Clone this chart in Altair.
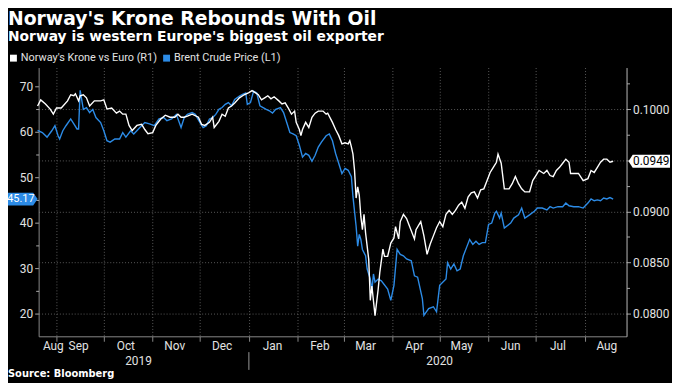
import altair as alt
import pandas as pd

KRONE = "Norway's Krone vs Euro (R1)"
BRENT = "Brent Crude Price (L1)"

krone_dates = [
    "2019-08-20", "2019-08-22", "2019-08-25", "2019-08-28", "2019-08-30", "2019-09-01", "2019-09-04",
    "2019-09-08", "2019-09-10", "2019-09-12", "2019-09-13", "2019-09-15", "2019-09-16", "2019-09-18",
    "2019-09-20", "2019-09-22", "2019-09-25", "2019-09-29", "2019-10-01", "2019-10-03", "2019-10-06",
    "2019-10-09", "2019-10-11", "2019-10-13", "2019-10-15", "2019-10-17", "2019-10-19", "2019-10-22",
    "2019-10-25", "2019-10-27", "2019-10-29", "2019-11-01", "2019-11-03", "2019-11-06", "2019-11-09",
    "2019-11-12", "2019-11-15", "2019-11-17", "2019-11-19", "2019-11-21", "2019-11-23", "2019-11-26",
    "2019-11-30", "2019-12-02", "2019-12-04", "2019-12-07", "2019-12-09", "2019-12-10", "2019-12-13",
    "2019-12-15", "2019-12-17", "2019-12-19", "2019-12-21", "2019-12-23", "2019-12-26", "2019-12-29",
    "2020-01-01", "2020-01-03", "2020-01-05", "2020-01-07", "2020-01-09", "2020-01-11", "2020-01-13",
    "2020-01-15", "2020-01-17", "2020-01-20", "2020-01-22", "2020-01-24", "2020-01-26", "2020-01-28",
    "2020-01-30", "2020-01-31", "2020-02-02", "2020-02-03", "2020-02-04", "2020-02-06", "2020-02-08",
    "2020-02-10", "2020-02-12", "2020-02-14", "2020-02-17", "2020-02-19", "2020-02-20", "2020-02-23",
    "2020-02-25", "2020-02-27", "2020-02-29", "2020-03-02", "2020-03-04", "2020-03-05", "2020-03-06",
    "2020-03-07", "2020-03-08", "2020-03-09", "2020-03-10", "2020-03-11", "2020-03-12", "2020-03-13",
    "2020-03-14", "2020-03-15", "2020-03-16", "2020-03-17", "2020-03-18", "2020-03-19", "2020-03-21",
    "2020-03-23", "2020-03-24", "2020-03-26", "2020-03-27", "2020-03-29", "2020-03-31", "2020-04-02",
    "2020-04-03", "2020-04-05", "2020-04-06", "2020-04-08", "2020-04-10", "2020-04-12", "2020-04-15",
    "2020-04-16", "2020-04-19", "2020-04-21", "2020-04-23", "2020-04-25", "2020-04-27", "2020-04-29",
    "2020-05-01", "2020-05-03", "2020-05-05", "2020-05-07", "2020-05-09", "2020-05-11", "2020-05-13",
    "2020-05-15", "2020-05-17", "2020-05-19", "2020-05-21", "2020-05-23", "2020-05-25", "2020-05-27",
    "2020-05-29", "2020-05-31", "2020-06-02", "2020-06-04", "2020-06-06", "2020-06-07", "2020-06-09",
    "2020-06-11", "2020-06-14", "2020-06-16", "2020-06-18", "2020-06-20", "2020-06-22", "2020-06-24",
    "2020-06-27", "2020-06-29", "2020-07-01", "2020-07-03", "2020-07-06", "2020-07-08", "2020-07-10",
    "2020-07-12", "2020-07-14", "2020-07-16", "2020-07-18", "2020-07-20", "2020-07-22", "2020-07-23",
    "2020-07-26", "2020-07-28", "2020-07-31", "2020-08-03", "2020-08-05", "2020-08-07", "2020-08-09",
    "2020-08-11", "2020-08-13", "2020-08-15", "2020-08-17", "2020-08-19",
]
krone_values = [
    0.1003, 0.1009, 0.1005, 0.1000, 0.0995, 0.1001, 0.1001,
    0.1008, 0.1014, 0.1013, 0.1015, 0.1008, 0.1013, 0.1014,
    0.1011, 0.1003, 0.1008, 0.1008, 0.1009, 0.1000, 0.1001,
    0.0996, 0.0998, 0.0995, 0.0995, 0.0984, 0.0979, 0.0984,
    0.0985, 0.0980, 0.0976, 0.0977, 0.0984, 0.0990, 0.0994,
    0.0992, 0.0992, 0.0995, 0.0992, 0.0992, 0.0993, 0.0995,
    0.0992, 0.0985, 0.0984, 0.0987, 0.0992, 0.0982, 0.0988,
    0.0995, 0.0993, 0.1001, 0.1003, 0.1006, 0.1011, 0.1014,
    0.1016, 0.1018, 0.1016, 0.1014, 0.1009, 0.1011, 0.1013,
    0.1010, 0.1012, 0.1008, 0.1005, 0.1006, 0.1001, 0.0995,
    0.0998, 0.0987, 0.0980, 0.0974, 0.0980, 0.0987, 0.0982,
    0.0992, 0.0996, 0.0998, 0.0998, 0.0995, 0.0996, 0.0987,
    0.0980, 0.0974, 0.0966, 0.0967, 0.0966, 0.0969, 0.0963,
    0.0956, 0.0940, 0.0913, 0.0924, 0.0916, 0.0895, 0.0882,
    0.0897, 0.0879, 0.0866, 0.0853, 0.0813, 0.0827, 0.0798,
    0.0824, 0.0840, 0.0863, 0.0856, 0.0856, 0.0869, 0.0874,
    0.0885, 0.0873, 0.0890, 0.0897, 0.0893, 0.0885, 0.0873,
    0.0882, 0.0890, 0.0876, 0.0858, 0.0868, 0.0876, 0.0884,
    0.0890, 0.0885, 0.0897, 0.0901, 0.0897, 0.0901, 0.0906,
    0.0909, 0.0903, 0.0914, 0.0918, 0.0919, 0.0913, 0.0921,
    0.0922, 0.0930, 0.0938, 0.0943, 0.0948, 0.0956, 0.0947,
    0.0922, 0.0922, 0.0927, 0.0934, 0.0927, 0.0922, 0.0919,
    0.0919, 0.0930, 0.0935, 0.0940, 0.0937, 0.0940, 0.0935,
    0.0934, 0.0940, 0.0943, 0.0947, 0.0951, 0.0948, 0.0937,
    0.0937, 0.0937, 0.0930, 0.0932, 0.0940, 0.0938, 0.0943,
    0.0948, 0.0951, 0.0951, 0.0948, 0.0949,
]

brent_dates = [
    "2019-08-20", "2019-08-23", "2019-08-26", "2019-08-29", "2019-08-31", "2019-09-02", "2019-09-03",
    "2019-09-05", "2019-09-07", "2019-09-10", "2019-09-12", "2019-09-14", "2019-09-15", "2019-09-16",
    "2019-09-18", "2019-09-20", "2019-09-22", "2019-09-24", "2019-09-26", "2019-09-29", "2019-10-01",
    "2019-10-03", "2019-10-05", "2019-10-08", "2019-10-11", "2019-10-13", "2019-10-15", "2019-10-18",
    "2019-10-20", "2019-10-23", "2019-10-27", "2019-10-30", "2019-11-02", "2019-11-05", "2019-11-08",
    "2019-11-10", "2019-11-13", "2019-11-16", "2019-11-19", "2019-11-21", "2019-11-23", "2019-11-26",
    "2019-11-28", "2019-12-01", "2019-12-03", "2019-12-05", "2019-12-07", "2019-12-09", "2019-12-11",
    "2019-12-13", "2019-12-15", "2019-12-17", "2019-12-19", "2019-12-21", "2019-12-23", "2019-12-26",
    "2019-12-28", "2019-12-30", "2019-12-31", "2020-01-02", "2020-01-04", "2020-01-06", "2020-01-08",
    "2020-01-10", "2020-01-12", "2020-01-14", "2020-01-16", "2020-01-18", "2020-01-21", "2020-01-23",
    "2020-01-25", "2020-01-27", "2020-01-29", "2020-01-31", "2020-02-02", "2020-02-04", "2020-02-06",
    "2020-02-08", "2020-02-10", "2020-02-12", "2020-02-14", "2020-02-16", "2020-02-19", "2020-02-21",
    "2020-02-23", "2020-02-25", "2020-02-27", "2020-02-29", "2020-03-02", "2020-03-04", "2020-03-06",
    "2020-03-07", "2020-03-09", "2020-03-10", "2020-03-11", "2020-03-12", "2020-03-13", "2020-03-15",
    "2020-03-16", "2020-03-18", "2020-03-19", "2020-03-20", "2020-03-21", "2020-03-23", "2020-03-25",
    "2020-03-29", "2020-03-31", "2020-04-02", "2020-04-04", "2020-04-06", "2020-04-08", "2020-04-10",
    "2020-04-13", "2020-04-15", "2020-04-17", "2020-04-20", "2020-04-21", "2020-04-24", "2020-04-27",
    "2020-04-29", "2020-05-01", "2020-05-05", "2020-05-06", "2020-05-08", "2020-05-10", "2020-05-12",
    "2020-05-14", "2020-05-16", "2020-05-18", "2020-05-20", "2020-05-22", "2020-05-24", "2020-05-26",
    "2020-05-28", "2020-05-30", "2020-06-01", "2020-06-03", "2020-06-05", "2020-06-06", "2020-06-08",
    "2020-06-09", "2020-06-11", "2020-06-15", "2020-06-17", "2020-06-20", "2020-06-22", "2020-06-24",
    "2020-06-27", "2020-06-30", "2020-07-02", "2020-07-05", "2020-07-08", "2020-07-10", "2020-07-12",
    "2020-07-15", "2020-07-18", "2020-07-20", "2020-07-22", "2020-07-25", "2020-07-28", "2020-07-31",
    "2020-08-03", "2020-08-05", "2020-08-07", "2020-08-09", "2020-08-11", "2020-08-13", "2020-08-15",
    "2020-08-17", "2020-08-19",
]
brent_values = [
    60.3, 59.8, 58.8, 60.2, 61.3, 59.1, 58.4,
    60.2, 61.3, 62.8, 61.7, 60.6, 60.6, 69.1,
    64.9, 65.3, 64.2, 64.9, 63.1, 62.0, 60.2,
    58.0, 57.7, 58.4, 58.4, 59.8, 58.8, 60.2,
    59.5, 60.6, 62.0, 61.7, 61.3, 62.8, 63.1,
    62.4, 62.8, 63.8, 60.9, 63.1, 63.8, 64.2,
    63.8, 62.0, 60.9, 61.3, 62.8, 63.1, 63.8,
    64.9, 65.3, 66.0, 66.4, 65.7, 67.1, 67.8,
    68.2, 68.5, 66.0, 66.4, 68.9, 68.5, 65.7,
    65.3, 64.9, 64.6, 64.1, 64.9, 65.3, 64.2,
    62.0, 59.8, 59.5, 59.1, 57.0, 54.4, 55.2,
    54.8, 53.5, 54.8, 56.6, 57.7, 59.1, 59.5,
    58.0, 55.2, 53.0, 50.8, 51.9, 51.5, 50.1,
    45.7, 39.2, 34.8, 37.4, 36.3, 34.1, 32.7,
    29.8, 27.6, 25.1, 28.7, 26.9, 27.6, 27.2,
    25.4, 22.9, 26.2, 34.1, 33.0, 32.7, 32.0,
    31.6, 28.3, 28.0, 23.3, 19.6, 21.1, 21.5,
    20.4, 26.2, 27.6, 31.2, 29.8, 30.9, 29.4,
    29.8, 32.7, 34.5, 36.3, 35.2, 35.9, 35.2,
    35.6, 35.6, 39.6, 39.9, 42.1, 42.5, 41.0,
    42.1, 38.8, 39.9, 41.0, 41.7, 43.2, 41.0,
    41.7, 42.5, 43.2, 43.2, 42.8, 43.5, 43.2,
    43.5, 43.5, 44.3, 43.7, 43.5, 43.5, 43.2,
    44.3, 45.2, 44.8, 45.0, 44.8, 45.4, 45.2,
    45.5, 45.17,
]

month_labels = ["Aug", "Sep", "Oct", "Nov", "Dec", "Jan", "Feb", "Mar", "Apr", "May", "Jun", "Jul", "Aug"]
month_label_dates = ["2019-08-30", "2019-09-15", "2019-10-15", "2019-11-15", "2019-12-15", "2020-01-16",
                     "2020-02-15", "2020-03-15", "2020-04-15", "2020-05-15", "2020-06-15", "2020-07-15",
                     "2020-08-15"]
month_start_dates = ["2019-09-01", "2019-10-01", "2019-11-01", "2019-12-01", "2020-01-01", "2020-02-01",
                     "2020-03-01", "2020-04-01", "2020-05-01", "2020-06-01", "2020-07-01", "2020-08-01"]
year_labels = ["2019", "2020"]
year_label_dates = ["2019-10-23", "2020-05-01"]
year_break_dates = ["2020-01-01"]
left_ticks = [20, 30, 40, 50, 60, 70]
left_minor_ticks = [25, 35, 45, 55, 65]
right_ticks = [0.08, 0.085, 0.09, 0.095, 0.1]
right_minor_ticks = [0.0825, 0.0875, 0.0925, 0.0975, 0.1025]

W, H = 595, 272
BLUE = "#2c8be6"
LABEL = "#e2e2e2"
GRID = "#5a5a5a"


def ms(s, hours=0):
    return int((pd.Timestamp(s, tz="UTC") + pd.Timedelta(hours=hours)).timestamp() * 1000)


x_scale = alt.Scale(type="utc", domain=[ms("2019-08-20", 16), ms("2020-08-27", 12)])
left_scale = alt.Scale(domain=[15, 74.1], zero=False, nice=False)
right_scale = alt.Scale(domain=[0.07778, 0.10406], zero=False, nice=False)
color_scale = alt.Scale(domain=[KRONE, BRENT], range=["#ffffff", BLUE])

legend = alt.Legend(orient="none", legendX=-31, legendY=-15, direction="horizontal", title=None,
                    symbolType="square", symbolSize=9, symbolStrokeWidth=4, labelColor=LABEL,
                    labelFont="Roboto", labelFontSize=11, columnPadding=0, labelOffset=2)

x_axis = alt.Axis(values=[ms(s) for s in month_start_dates], labels=False, tickSize=5,
                  tickColor="#888888", domainColor="#888888", grid=True, gridColor=GRID,
                  gridDash=[1, 2], title=None)
left_axis = alt.Axis(orient="left", values=left_ticks, format="d", grid=False, tickSize=4,
                     tickColor="#aaaaaa", domainColor="#888888", labelColor=LABEL,
                     labelFont="Roboto", labelFontSize=12, labelPadding=2, title=None)
left_minor_axis = alt.Axis(orient="left", values=left_minor_ticks, labels=False, grid=False,
                           domain=False, tickSize=3, tickColor="#aaaaaa", title=None)
right_axis = alt.Axis(orient="right", values=right_ticks,
                      labelExpr="datum.value == 0.095 ? '' : format(datum.value, '.4f')",
                      grid=True, gridColor=GRID, gridDash=[1, 2], tickSize=4, tickColor="#aaaaaa",
                      domainColor="#bbbbbb", labelColor=LABEL, labelFont="Roboto", labelFontSize=12,
                      labelPadding=2, title=None)
right_minor_axis = alt.Axis(orient="right", values=right_minor_ticks, labels=False, grid=False,
                            domain=False, tickSize=3, tickColor="#aaaaaa", title=None)

brent_df = pd.DataFrame({"date": brent_dates, "value": brent_values, "series": BRENT})
krone_df = pd.DataFrame({"date": krone_dates, "value": krone_values, "series": KRONE})
brent_last = pd.DataFrame({"value": [brent_values[-1]], "label": [f"{brent_values[-1]:.2f}"]})
krone_last = pd.DataFrame({"value": [krone_values[-1]], "label": [f"{krone_values[-1]:.4f}"]})

LEFT_TAG = "M-1,-0.43 L0.7,-0.43 L1,0 L0.7,0.43 L-1,0.43 Z"
RIGHT_TAG = "M-1,0 L-0.8,-0.31 L1,-0.31 L1,0.31 L-0.8,0.31 Z"

# every layer with an x field shares the same axis definition so the merged axis stays enabled
brent_line = alt.Chart(brent_df).mark_line(strokeWidth=1.4).encode(
    x=alt.X("date:T", scale=x_scale, axis=x_axis),
    y=alt.Y("value:Q", scale=left_scale, axis=left_axis),
    color=alt.Color("series:N", scale=color_scale, legend=legend),
)
krone_line = alt.Chart(krone_df).mark_line(strokeWidth=1.4).encode(
    x=alt.X("date:T", scale=x_scale, axis=x_axis),
    y=alt.Y("value:Q", scale=right_scale, axis=right_axis),
    color=alt.Color("series:N", scale=color_scale, legend=legend),
)
brent_minor = alt.Chart(brent_last).mark_point(opacity=0).encode(
    y=alt.Y("value:Q", scale=left_scale, axis=left_minor_axis))
krone_minor = alt.Chart(krone_last).mark_point(opacity=0).encode(
    y=alt.Y("value:Q", scale=right_scale, axis=right_minor_axis))
brent_box = alt.Chart(brent_last).mark_point(shape=LEFT_TAG, size=900, filled=True, opacity=1,
                                             color=BLUE, strokeWidth=0).encode(
    x=alt.value(-16),
    y=alt.Y("value:Q", scale=left_scale, axis=None),
)
brent_text = alt.Chart(brent_last).mark_text(color="white", font="Roboto", fontSize=11,
                                             align="center", baseline="middle").encode(
    x=alt.value(-18),
    y=alt.Y("value:Q", scale=left_scale, axis=None),
    text="label:N",
)
krone_box = alt.Chart(krone_last).mark_point(shape=RIGHT_TAG, size=1764, filled=True, opacity=1,
                                             color="white", strokeWidth=0).encode(
    x=alt.value(W + 23),
    y=alt.Y("value:Q", scale=right_scale, axis=None),
)
krone_text = alt.Chart(krone_last).mark_text(color="black", font="Roboto", fontSize=12,
                                             align="center", baseline="middle").encode(
    x=alt.value(W + 25),
    y=alt.Y("value:Q", scale=right_scale, axis=None),
    text="label:N",
)

months_df = pd.DataFrame({"date": month_label_dates, "label": month_labels})
years_df = pd.DataFrame({"date": year_label_dates, "label": year_labels})
break_df = pd.DataFrame({"date": year_break_dates})
source_df = pd.DataFrame({"t": ["Source: Bloomberg"]})

month_text = alt.Chart(months_df).mark_text(color=LABEL, font="Roboto", fontSize=12,
                                             baseline="middle").encode(
    x=alt.X("date:T", scale=x_scale, axis=x_axis), y=alt.value(H + 10), text="label:N")
year_text = alt.Chart(years_df).mark_text(color=LABEL, font="Roboto", fontSize=12,
                                          baseline="middle").encode(
    x=alt.X("date:T", scale=x_scale, axis=x_axis), y=alt.value(H + 25), text="label:N")
year_rule = alt.Chart(break_df).mark_rule(color="#999999", strokeWidth=1).encode(
    x=alt.X("date:T", scale=x_scale, axis=x_axis), y=alt.value(H + 16), y2=alt.value(H + 34))
source_text = alt.Chart(source_df).mark_text(color="white", font="DejaVu Sans", fontSize=10,
                                             fontWeight="bold", align="left", baseline="middle").encode(
    x=alt.value(-31), y=alt.value(H + 38), text="t:N")

chart = alt.layer(
    brent_line, krone_line, brent_minor, krone_minor, brent_box, brent_text, krone_box, krone_text,
    month_text, year_text, year_rule, source_text,
).resolve_scale(y="independent").properties(
    width=W,
    height=H,
    padding={"left": 31, "top": 58, "right": 46, "bottom": 45},
    autosize=alt.AutoSizeParams(type="none"),
    title=alt.TitleParams(
        text="Norway's Krone Rebounds With Oil",
        subtitle="Norway is western Europe's biggest oil exporter",
        anchor="start", frame="group", dx=-31, offset=9,
        color="white", font="DejaVu Sans", fontSize=19, fontWeight="bold",
        subtitleColor="white", subtitleFont="DejaVu Sans", subtitleFontSize=14,
        subtitleFontWeight="bold", subtitlePadding=1,
    ),
).configure(background="black").configure_view(strokeOpacity=0)

chart.save("out.html", embed_options={"renderer": "svg", "actions": False})
